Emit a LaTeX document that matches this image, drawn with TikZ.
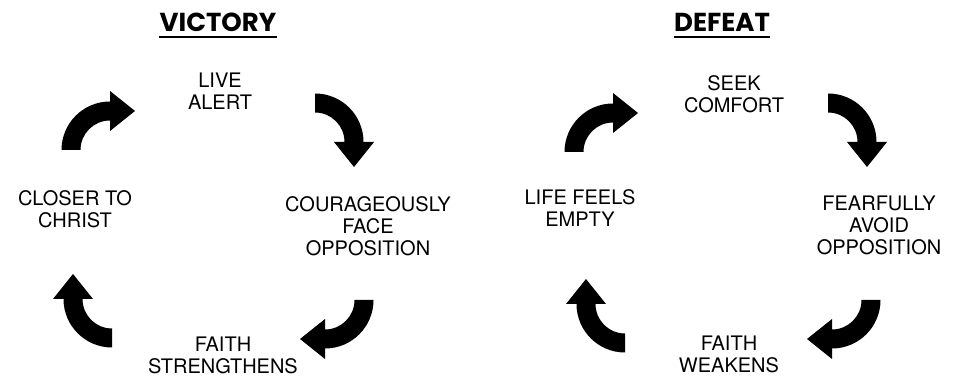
\documentclass[tikz,border=0pt]{standalone}
\usepackage{fontspec}
\setmainfont{TeX Gyre Heros}
\newfontfamily\headfont{Poppins}
\begin{document}
\begin{tikzpicture}[x=1pt,y=1pt,
  lbl/.style={align=center,inner sep=0pt,anchor=north,font=\fontsize{20}{22}\selectfont},
  head/.style={inner sep=0pt,anchor=base,font=\headfont\bfseries\fontsize{26}{30}\selectfont},
  uline/.style={line width=2.5pt},
  carrow/.pic={\fill[black] (-48.5,0) arc[start angle=180,end angle=90,radius=48.5]
     -- (0,59) -- (25,39) -- (0,19) -- (0,29.5)
     arc[start angle=90,end angle=180,radius=29.5] -- cycle;}]
\useasboundingbox (0,0) rectangle (961,377);
\fill[white] (0,0) rectangle (961,377);
% headers
\node[head] (vic) at (218,345) {VICTORY};
\node[head] (def) at (722,345) {DEFEAT};
\draw[uline] ([yshift=-5pt]vic.base west) -- ([yshift=-5pt]vic.base east);
\draw[uline] ([yshift=-5pt]def.base west) -- ([yshift=-5pt]def.base east);
% victory cycle
\node[lbl] (live) at (220,304) {LIVE\\ALERT};
\node[lbl] (face) at (368,181) {COURAGEOUSLY\\FACE\\OPPOSITION};
\node[lbl] (strong) at (223,40) {FAITH\\STRENGTHENS};
\node[lbl] (closer) at (75,187) {CLOSER TO\\CHRIST};
\pic at (110,227) {carrow};
\pic[rotate=-90] at (315,235) {carrow};
\pic[rotate=180] at (325,77) {carrow};
\pic[rotate=90] at (112,78) {carrow};
% defeat cycle
\node[lbl] (seek) at (734,302) {SEEK\\COMFORT};
\node[lbl] (avoid) at (879,181) {FEARFULLY\\AVOID\\OPPOSITION};
\node[lbl] (weak) at (729,41) {FAITH\\WEAKENS};
\node[lbl] (empty) at (580,188) {LIFE FEELS\\EMPTY};
\pic at (613,225) {carrow};
\pic[rotate=-90] at (828,235) {carrow};
\pic[rotate=180] at (832,77) {carrow};
\pic[rotate=90] at (625,73) {carrow};
\end{tikzpicture}
\end{document}
